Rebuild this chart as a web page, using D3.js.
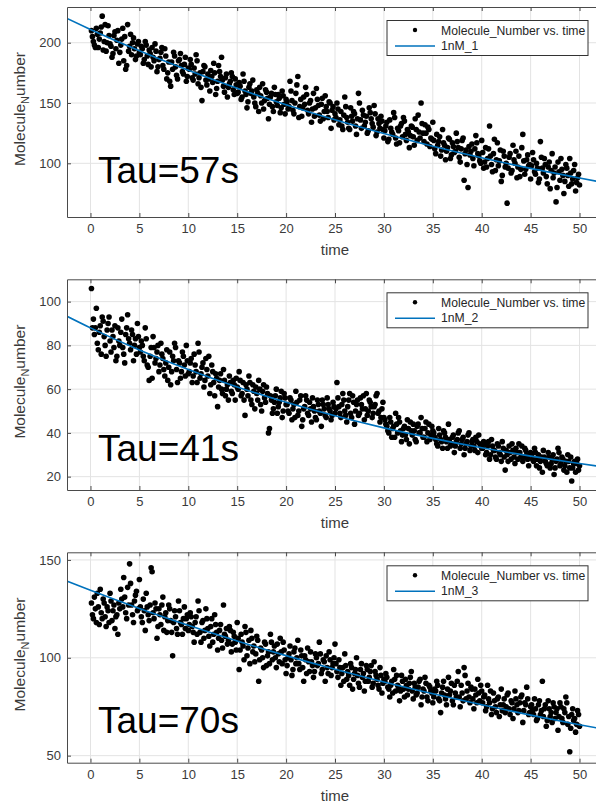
<!DOCTYPE html>
<html><head><meta charset="utf-8">
<script src="https://cdn.jsdelivr.net/npm/d3@7"></script>
<style>
body{margin:0;background:#fff}
svg{display:block}
text{font-family:Arial,"Liberation Sans",Helvetica,sans-serif}
</style>
</head><body>
<svg id="chart" width="596" height="805"></svg>
<script>
// ---------- DATA ----------
const timeStep = 0.1;
const nPoints = 500;
const times = d3.range(1, nPoints + 1).map(i => Math.round(i * timeStep * 10) / 10);

const molecules1 = [
210,205,201,198,196,212,207,196,203,208,213,222,194,201,215,193,200,214,206,199,197,188,191,206,209,195,202,210,183,192,198,203,212,185,205,178,181,215,193,197,207,190,200,204,195,186,189,199,201,192,
190,197,195,183,186,201,198,189,182,194,191,180,196,188,185,199,193,176,180,186,187,192,196,181,178,195,189,170,175,184,168,164,184,178,192,189,180,173,170,185,186,191,181,176,174,182,188,168,172,179,
178,186,182,171,169,179,174,190,185,166,171,175,163,152,176,181,180,169,165,174,170,160,177,172,167,183,175,157,162,168,181,176,172,188,169,164,159,171,174,155,163,166,168,175,172,161,157,170,165,158,
159,167,164,153,155,174,168,160,157,146,151,163,166,158,160,169,155,150,147,161,158,143,163,156,150,166,145,152,161,159,154,137,149,155,158,147,143,163,157,151,148,157,154,142,146,160,156,149,141,153,
151,145,147,168,160,152,144,141,150,158,165,172,138,147,153,139,146,155,149,163,157,144,141,150,152,134,145,158,139,146,162,153,148,140,135,149,154,137,143,156,147,143,138,151,150,129,144,147,136,141,
138,150,145,132,136,143,131,128,140,155,147,138,134,129,128,146,139,135,143,141,131,124,137,158,150,136,129,144,140,131,134,139,125,127,146,142,137,133,130,148,141,123,126,137,133,129,139,135,128,121,
127,131,134,118,120,136,129,126,124,142,138,121,116,129,127,117,131,133,122,138,135,124,119,128,126,113,123,131,130,122,115,137,128,119,140,126,121,150,133,125,118,132,125,116,130,128,114,121,120,134,
119,112,108,124,115,118,122,106,111,128,117,115,103,110,113,121,120,104,107,117,114,109,110,125,118,113,105,101,112,119,121,86,108,111,99,80,114,107,110,116,104,98,112,123,117,108,106,102,100,119,
109,96,101,113,97,104,112,131,106,99,93,108,120,94,103,117,98,102,111,85,90,110,106,97,100,67,96,105,108,92,94,115,103,100,110,88,97,106,89,95,113,124,102,91,95,103,107,98,99,87,
98,109,103,93,91,100,96,84,87,118,105,96,92,104,99,89,83,97,101,79,94,108,88,92,97,68,80,101,93,86,104,95,90,75,85,99,96,90,81,104,92,83,87,94,99,77,84,88,91,82
];
const molecules2 = [
106,88,92,85,88,97,81,78,86,89,76,93,91,84,80,75,87,90,93,82,77,87,84,79,89,73,75,88,82,80,86,92,79,76,72,85,88,94,83,81,78,87,85,73,80,83,76,90,84,79,
77,82,80,75,73,88,83,71,70,64,75,79,65,84,79,72,74,77,80,68,71,81,76,74,69,66,72,78,64,70,77,62,68,75,73,81,79,69,63,73,72,65,68,77,75,71,66,80,73,67,
68,72,74,63,66,76,71,68,63,81,77,65,67,70,72,61,64,74,69,66,75,58,62,71,68,63,57,67,65,52,61,64,67,60,58,69,64,57,60,62,55,66,63,59,58,64,62,55,65,61,
60,68,64,57,58,63,55,48,62,60,57,66,63,55,53,62,59,51,61,58,55,64,60,53,50,59,62,56,54,61,58,40,42,57,55,49,51,54,57,60,49,52,54,56,59,47,50,58,56,53,
53,50,49,56,55,46,51,53,47,59,54,48,50,55,57,43,46,51,52,57,55,49,48,54,51,45,56,52,50,47,46,55,53,50,49,43,55,53,51,48,47,56,53,51,50,46,48,54,52,49,
51,63,56,52,49,47,53,58,55,50,48,45,52,55,58,49,47,57,54,44,50,53,55,48,49,56,53,51,57,46,51,58,48,50,55,54,52,47,49,52,53,57,58,49,50,45,47,51,54,47,
46,44,43,41,40,47,45,38,42,43,38,49,44,40,47,45,41,36,39,42,43,39,37,46,42,35,45,41,39,44,41,37,36,43,44,40,40,47,42,38,38,42,45,36,40,44,37,39,43,41,
40,38,37,35,34,42,39,37,36,33,41,40,38,36,33,44,37,34,35,38,39,31,34,36,37,40,41,33,35,37,38,30,33,35,36,39,40,32,34,36,37,34,32,38,36,31,39,35,34,33,
33,36,35,30,31,34,36,28,30,37,34,32,32,29,28,35,34,31,30,27,36,33,29,23,32,30,27,34,31,28,35,32,29,26,33,31,28,35,31,29,34,27,29,33,32,30,28,25,30,31,
30,28,27,33,31,25,28,30,24,27,29,22,32,29,27,26,25,31,29,24,26,28,30,21,24,27,28,33,31,25,26,29,28,23,25,27,22,30,27,24,29,18,24,26,27,22,26,28,23,25
];
const molecules3 = [
128,122,120,131,125,118,133,126,117,135,123,120,130,128,121,116,126,124,118,133,129,119,124,127,115,121,122,112,128,125,135,130,126,141,131,123,120,136,127,148,138,127,122,118,129,132,134,124,125,140,
126,121,118,130,124,114,133,126,122,119,127,146,144,123,120,128,125,110,116,125,122,117,127,131,114,121,123,113,119,127,125,119,113,101,118,124,121,115,112,129,124,118,117,112,120,126,115,120,122,114,
117,123,121,116,113,108,118,121,112,129,124,113,108,118,119,110,114,125,120,115,111,106,116,120,108,112,122,117,113,104,110,114,117,109,105,127,112,111,115,107,109,116,114,103,107,113,111,108,104,118,
110,94,104,112,108,106,99,116,113,101,105,109,97,114,110,103,106,98,102,111,109,88,99,105,104,100,95,108,107,96,101,103,97,112,108,99,103,106,100,95,107,102,98,110,103,97,108,104,99,92,
96,100,102,106,99,91,94,103,105,97,100,109,97,94,104,101,95,88,101,99,92,105,98,93,103,98,96,90,93,102,100,96,97,108,102,92,94,99,98,88,101,95,92,103,99,91,95,97,100,107,
97,93,90,99,95,86,92,95,88,102,96,89,93,91,86,97,95,84,89,92,94,100,91,87,85,94,97,90,92,83,88,96,94,88,90,93,96,85,87,98,93,91,89,86,84,95,91,82,87,89,
88,92,90,85,84,80,86,88,82,94,89,83,91,86,85,78,83,91,88,84,80,89,86,81,84,87,90,93,83,79,87,85,81,82,85,88,89,76,80,84,83,90,87,80,78,86,85,83,82,77,
80,84,83,88,86,79,78,72,82,85,88,81,79,76,84,90,81,83,87,78,76,86,82,80,88,93,80,75,86,82,78,95,91,79,83,87,80,77,85,84,79,74,84,81,77,89,82,78,86,83,
77,80,81,73,75,86,79,77,83,71,74,82,78,75,72,79,80,70,76,84,73,76,79,72,75,81,82,74,71,78,77,69,74,83,79,76,72,73,77,80,81,67,73,77,76,85,79,71,72,75,
76,73,71,79,74,68,69,76,78,71,73,88,70,74,76,65,68,78,74,70,72,67,77,75,69,72,74,63,70,77,75,69,67,74,72,80,77,66,70,52,64,71,74,68,69,62,66,73,71,65
];

const fitTimes = [-2.4, 0, 5, 10, 15, 20, 25, 30, 35, 40, 45, 50, 52.4];
const fit1 = [220.1, 211, 193.3, 177.1, 162.2, 148.6, 136.1, 124.7, 114.2, 104.6, 95.8, 87.8, 84.1];
const fit2 = [93.3, 88, 77.9, 69.0, 61.0, 54.0, 47.8, 42.3, 37.5, 33.2, 29.4, 26.0, 24.5];
const fit3 = [139.2, 134.5, 125.2, 116.6, 108.6, 101.1, 94.1, 87.6, 81.6, 76.0, 70.7, 65.8, 63.6];

const xTicks = [0, 5, 10, 15, 20, 25, 30, 35, 40, 45, 50];
const yTicks1 = [100, 150, 200];
const yTicks2 = [20, 40, 60, 80, 100];
const yTicks3 = [50, 100, 150];

const tauLabels = ["Tau=57s", "Tau=41s", "Tau=70s"];
const fitNames = ["1nM_1", "1nM_2", "1nM_3"];
const scatterName = "Molecule_Number vs. time";
const xLabel = "time";

// ---------- LAYOUT ----------
const panels = [
  {values: molecules1, fit: fit1, yTicks: yTicks1, yDomain: [55.5, 229.6], top: 7,     bottom: 217,   tauY: 183},
  {values: molecules2, fit: fit2, yTicks: yTicks2, yDomain: [13.9, 110.2], top: 279.3, bottom: 490,   tauY: 460.7},
  {values: molecules3, fit: fit3, yTicks: yTicks3, yDomain: [46.4, 153.9], top: 552.3, bottom: 762.7, tauY: 733.3}
];
const left = 67, right = 603;
const axisColor = "#4a4a4a", gridColor = "#e3e3e3", textColor = "#3a3a3a";
const lineColor = "#0072BD";

const svg = d3.select("#chart");
const x = d3.scaleLinear().domain([-2.4, 52.4]).range([left, right]);

panels.forEach((p, i) => {
  const y = d3.scaleLinear().domain(p.yDomain).range([p.bottom, p.top]);
  const g = svg.append("g");
  const clipId = "clip" + i;
  g.append("clipPath").attr("id", clipId).append("rect")
    .attr("x", left).attr("y", p.top).attr("width", right - left).attr("height", p.bottom - p.top);

  // grid
  g.append("g").selectAll("line").data(xTicks).join("line")
    .attr("x1", d => x(d)).attr("x2", d => x(d)).attr("y1", p.top).attr("y2", p.bottom)
    .attr("stroke", gridColor).attr("stroke-width", 1);
  g.append("g").selectAll("line").data(p.yTicks).join("line")
    .attr("x1", left).attr("x2", right).attr("y1", d => y(d)).attr("y2", d => y(d))
    .attr("stroke", gridColor).attr("stroke-width", 1);

  const plot = g.append("g").attr("clip-path", `url(#${clipId})`);
  // scatter
  plot.append("g").selectAll("circle").data(p.values).join("circle")
    .attr("cx", (d, j) => x(times[j])).attr("cy", d => y(d)).attr("r", 2.8).attr("fill", "#000");
  // fit line
  const line = d3.line().x((d, j) => x(fitTimes[j])).y(d => y(d)).curve(d3.curveMonotoneX);
  plot.append("path").datum(p.fit).attr("d", line)
    .attr("fill", "none").attr("stroke", lineColor).attr("stroke-width", 1.6);

  // axes
  const styleAxis = sel => {
    sel.select(".domain").attr("stroke", axisColor);
    sel.selectAll(".tick line").attr("stroke", axisColor);
    sel.selectAll(".tick text").attr("fill", textColor).style("font-size", "13px")
      .style("font-family", 'Arial,"Liberation Sans",sans-serif');
  };
  g.append("g").attr("transform", `translate(0,${p.bottom})`)
    .call(d3.axisBottom(x).tickValues(xTicks).tickSizeInner(-4).tickSizeOuter(0).tickPadding(7))
    .call(styleAxis);
  g.append("g").attr("transform", `translate(0,${p.top})`)
    .call(d3.axisTop(x).tickValues(xTicks).tickSizeInner(-4).tickSizeOuter(0).tickFormat(""))
    .call(styleAxis);
  g.append("g").attr("transform", `translate(${left},0)`)
    .call(d3.axisLeft(y).tickValues(p.yTicks).tickSizeInner(-4).tickSizeOuter(0).tickPadding(6))
    .call(styleAxis);

  // x label
  g.append("text").attr("x", (left + right) / 2).attr("y", p.bottom + 38)
    .attr("text-anchor", "middle").attr("fill", textColor).style("font-size", "15px").text(xLabel);

  // y label with subscript N
  const cy = (p.top + p.bottom) / 2 - 3;
  const yl = g.append("text").attr("transform", `translate(25,${cy}) rotate(-90)`)
    .attr("text-anchor", "middle").attr("fill", textColor).style("font-size", "15.5px");
  yl.append("tspan").text("Molecule");
  yl.append("tspan").attr("dy", 4).style("font-size", "11px").text("N");
  yl.append("tspan").attr("dy", -4).text("umber");

  // Tau annotation
  g.append("text").attr("x", 98).attr("y", p.tauY).attr("fill", "#000")
    .style("font-size", "37px").text(tauLabels[i]);

  // legend
  const lx = 387, lw = 201, lt = p.top + 13.5, lh = 35;
  const lg = g.append("g");
  lg.append("rect").attr("x", lx).attr("y", lt).attr("width", lw).attr("height", lh)
    .attr("fill", "#fff").attr("stroke", "#333").attr("stroke-width", 1);
  lg.append("circle").attr("cx", 415).attr("cy", lt + 9.5).attr("r", 2.2).attr("fill", "#000");
  lg.append("text").attr("x", 441).attr("y", lt + 14).attr("fill", "#262626")
    .style("font-size", "12.2px").text(scatterName);
  lg.append("line").attr("x1", 395).attr("x2", 435).attr("y1", lt + 25.5).attr("y2", lt + 25.5)
    .attr("stroke", lineColor).attr("stroke-width", 1.6);
  lg.append("text").attr("x", 441).attr("y", lt + 29.5).attr("fill", "#262626")
    .style("font-size", "12.2px").text(fitNames[i]);
});
</script>
</body></html>
